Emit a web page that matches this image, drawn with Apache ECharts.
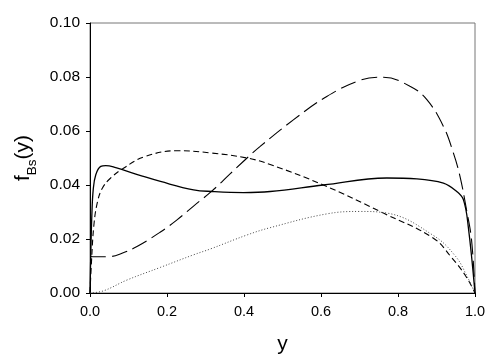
<!DOCTYPE html>
<html>
<head>
<meta charset="utf-8">
<script src="https://cdn.jsdelivr.net/npm/echarts@6/dist/echarts.min.js"></script>
<style>html,body{margin:0;padding:0;background:#fff}#c{width:491px;height:364px}</style>
</head>
<body>
<div id="c"></div>
<script>
// Solid curve
const solidX = [0, 0.002, 0.0047, 0.0083, 0.015, 0.028, 0.041, 0.067, 0.136, 0.183, 0.269, 0.317, 0.399, 0.468, 0.606, 0.771, 0.849, 0.918, 0.9525, 0.97, 0.9825, 1.0];
const solidY = [0, 0.014, 0.0283, 0.0382, 0.0438, 0.0469, 0.0472, 0.0464, 0.0433, 0.0413, 0.0382, 0.0376, 0.0372, 0.0376, 0.040, 0.0426, 0.0423, 0.0407, 0.0376, 0.0345, 0.0246, 0];
// Short-dashed curve
const shortX = [0, 0.004, 0.01, 0.019, 0.032, 0.053, 0.088, 0.14, 0.226, 0.3125, 0.408, 0.468, 0.606, 0.762, 0.892, 0.94, 0.975, 1.0];
const shortY = [0, 0.012, 0.025, 0.0335, 0.0388, 0.0425, 0.0463, 0.0504, 0.0527, 0.0519, 0.050, 0.0476, 0.040, 0.0296, 0.0203, 0.013, 0.0065, 0];
// Long-dashed curve
const longX = [0, 0.015, 0.053, 0.08, 0.122, 0.183, 0.226, 0.269, 0.317, 0.3645, 0.408, 0.442, 0.529, 0.615, 0.702, 0.762, 0.831, 0.875, 0.918, 0.944, 0.961, 0.978, 0.991, 1.0];
const longY = [0.0135, 0.0134, 0.0135, 0.0145, 0.0172, 0.0226, 0.0271, 0.0322, 0.0378, 0.0442, 0.050, 0.0543, 0.0642, 0.0728, 0.0788, 0.0799, 0.0766, 0.0716, 0.0617, 0.0518, 0.0432, 0.0308, 0.0197, 0];
// Dotted curve
const dotX = [0, 0.035, 0.096, 0.183, 0.27, 0.3125, 0.408, 0.468, 0.615, 0.702, 0.771, 0.892, 0.95, 0.98, 1.0];
const dotY = [0, 0.0008, 0.0048, 0.0095, 0.0142, 0.0163, 0.0215, 0.0242, 0.0293, 0.0302, 0.0296, 0.0213, 0.0135, 0.006, 0];

const xTicks = [0, 0.2, 0.4, 0.6, 0.8, 1.0];
const yTicks = [0, 0.02, 0.04, 0.06, 0.08, 0.10];

const zip = (xs, ys) => xs.map((x, i) => [x, ys[i]]);
const FONT = "'Liberation Sans', Arial, sans-serif";

const chart = echarts.init(document.getElementById('c'), null, {renderer: 'canvas'});
chart.setOption({
  animation: false,
  backgroundColor: '#fff',
  grid: {left: 90, right: 16, top: 23, bottom: 71, show: true, borderColor: '#777', borderWidth: 1, backgroundColor: 'transparent'},
  xAxis: {
    type: 'value', min: xTicks[0], max: xTicks[xTicks.length - 1], interval: 0.2,
    name: 'y', nameLocation: 'middle', nameGap: 41,
    nameTextStyle: {fontFamily: FONT, fontSize: 21, color: '#000'},
    axisLine: {show: true, lineStyle: {color: '#000', width: 1}},
    axisTick: {show: true, inside: false, length: 4, lineStyle: {color: '#000'}},
    axisLabel: {fontFamily: FONT, fontSize: 14.5, color: '#000', margin: 11, formatter: v => v.toFixed(1)},
    splitLine: {show: false}
  },
  yAxis: {
    type: 'value', min: yTicks[0], max: yTicks[yTicks.length - 1], interval: 0.02,
    name: '{i|f}{s|Bs}{i|(y)}', nameLocation: 'middle', nameGap: 55, nameRotate: 90,
    nameTextStyle: {
      fontFamily: FONT, color: '#000',
      rich: {
        i: {fontFamily: FONT, fontSize: 21, color: '#000', verticalAlign: 'bottom', lineHeight: 22},
        s: {fontFamily: FONT, fontSize: 13.5, color: '#000', verticalAlign: 'bottom', lineHeight: 12, padding: [0, 0, -5, 0]}
      }
    },
    axisLine: {show: true, lineStyle: {color: '#000', width: 1}},
    axisTick: {show: true, inside: false, length: 4, lineStyle: {color: '#000'}},
    axisLabel: {fontFamily: FONT, fontSize: 15.5, color: '#000', margin: 10, formatter: v => v.toFixed(2)},
    splitLine: {show: false}
  },
  series: [
    {type: 'line', data: zip(solidX, solidY), showSymbol: false, smooth: 0.4,
     lineStyle: {color: '#000', width: 1.3, type: 'solid'}},
    {type: 'line', data: zip(shortX, shortY), showSymbol: false, smooth: 0.4,
     lineStyle: {color: '#000', width: 1.1, type: [6, 3.5]}},
    {type: 'line', data: zip(longX, longY), showSymbol: false, smooth: 0.4,
     lineStyle: {color: '#000', width: 1.1, type: [16, 6]}},
    {type: 'line', data: zip(dotX, dotY), showSymbol: false, smooth: 0.4,
     lineStyle: {color: '#444', width: 1, type: [1, 2]}}
  ]
});
</script>
</body>
</html>
